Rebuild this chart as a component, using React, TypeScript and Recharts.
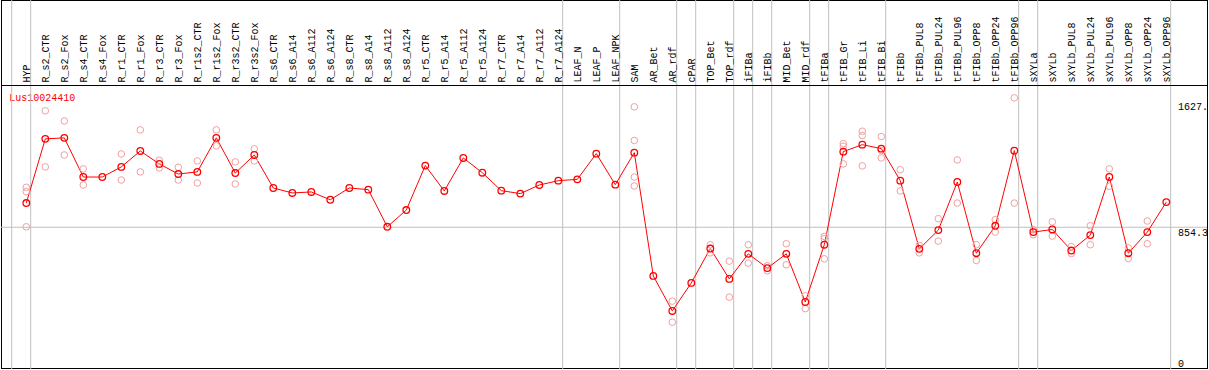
import React from "react";
import { ComposedChart, Line, Scatter, XAxis, YAxis, ReferenceLine } from "recharts";

const categories = [
  "HYP", "R_s2_CTR", "R_s2_Fox", "R_s4_CTR", "R_s4_Fox", "R_r1_CTR", "R_r1_Fox", "R_r3_CTR", "R_r3_Fox",
  "R_r1s2_CTR", "R_r1s2_Fox", "R_r3s2_CTR", "R_r3s2_Fox", "R_s6_CTR", "R_s6_A14", "R_s6_A112", "R_s6_A124",
  "R_s8_CTR", "R_s8_A14", "R_s8_A112", "R_s8_A124", "R_r5_CTR", "R_r5_A14", "R_r5_A112", "R_r5_A124",
  "R_r7_CTR", "R_r7_A14", "R_r7_A112", "R_r7_A124", "LEAF_N", "LEAF_P", "LEAF_NPK", "SAM", "AR_Bet", "AR_rdf",
  "cPAR", "TOP_Bet", "TOP_rdf", "iFIBa", "iFIBb", "MID_Bet", "MID_rdf", "tFIBa", "tFIB_Gr", "tFIB_Li", "tFIB_Bi",
  "tFIBb", "tFIBb_PUL8", "tFIBb_PUL24", "tFIBb_PUL96", "tFIBb_OPP8", "tFIBb_OPP24", "tFIBb_OPP96", "sXYLa",
  "sXYLb", "sXYLb_PUL8", "sXYLb_PUL24", "sXYLb_PUL96", "sXYLb_OPP8", "sXYLb_OPP24", "sXYLb_OPP96",
];

const means = [
  1000, 1387, 1393, 1157, 1157, 1218, 1314, 1236, 1175, 1188, 1393, 1181, 1290, 1091, 1061, 1067, 1020,
  1091, 1081, 857, 958, 1226, 1073, 1272, 1183, 1075, 1057, 1109, 1135, 1143, 1298, 1111, 1304, 561, 350,
  519, 726, 543, 694, 608, 694, 404, 749, 1310, 1352, 1328, 1135, 724, 837, 1127, 698, 863, 1316, 825,
  841, 714, 807, 1157, 698, 825, 1006,
];

const N = null;
const rep1 = [
  1095, 1556, 1495, 1206, N, 1296, 1441, 1258, 1216, 1254, 1441, 1248, 1327, N, N, N, N,
  N, N, N, N, N, N, N, N, N, N, N, N, N, N, N, 1580, N, 409,
  N, 749, 650, 749, 622, 755, 441, 799, 1358, 1433, 1401, 1201, 745, 906, 1260, 749, 900, 1634, 839,
  887, 738, 863, 1206, 730, 892, N,
];
const rep2 = [
  1069, 1218, 1290, 1109, N, 1139, 1188, 1212, 1139, 1121, 1345, 1115, 1254, N, N, N, N,
  N, N, N, N, N, N, N, N, N, N, N, N, N, N, N, 1377, N, 282,
  N, 700, 433, 638, 592, 628, 364, 785, 1342, 1407, 1316, 1073, 700, 771, 1000, 654, 825, 1000, 809,
  801, 696, 749, 1101, 666, 755, N,
];
const rep3 = [
  857, N, N, N, N, N, N, N, N, N, N, N, N, N, N, N, N,
  N, N, N, N, N, N, N, N, N, N, N, N, N, N, N, 1157, N, N,
  N, N, N, N, N, N, N, 664, 1236, 1224, 1272, N, N, N, N, N, N, N, N,
  N, N, N, N, N, N, N,
];
const rep4 = [
  N, N, N, N, N, N, N, N, N, N, N, N, N, N, N, N, N,
  N, N, N, N, N, N, N, N, N, N, N, N, N, N, N, 1103, N, N,
  N, N, N, N, N, N, N, N, N, N, N, N, N, N, N, N, N, N, N,
  N, N, N, N, N, N, N,
];

const groupEnds = [-1, 0, 28, 31, 34, 35, 37, 38, 39, 41, 42, 45, 52, 53, 60];
const yTicks = [0, 854.3, 1627];
const yTickLabels = ["0", "854.3", "1627."];
const title = "Lus10024410";
const yMax = 1708.6;

const rows = categories.map((c, i) => ({ idx: i, name: c, mean: means[i] }));
const repPoints: { idx: number; v: number }[] = [];
[rep1, rep2, rep3, rep4].forEach((arr) =>
  arr.forEach((v, i) => {
    if (v !== null) repPoints.push({ idx: i, v: v as number });
  })
);

const FONT = "'Liberation Mono', 'DejaVu Sans Mono', monospace";
const RED = "#ff0000";
const PINK = "#f0a0a0";
const GRID = "#c0c0c0";

const XTick = (props: any) => {
  const { x, payload } = props;
  return (
    <text
      transform={`translate(${x + 3.5}, 82.5) rotate(-90)`}
      textAnchor="start"
      fontFamily={FONT}
      fontSize={10}
      fill="#000"
    >
      {categories[payload.value]}
    </text>
  );
};

const YTick = (props: any) => {
  const { y, payload } = props;
  const i = yTicks.indexOf(payload.value);
  const dy = i === 2 ? 11.4 : i === 1 ? 8.6 : -2;
  return (
    <text x={1178} y={y + dy} textAnchor="start" fontFamily={FONT} fontSize={10} fill="#000">
      {yTickLabels[i]}
    </text>
  );
};

const MainDot = (props: any) => {
  const { cx, cy, index } = props;
  return <circle key={`m${index}`} cx={cx} cy={cy} r={3.3} fill="none" stroke={RED} strokeWidth={1.3} />;
};

const RepDot = (props: any) => {
  const { cx, cy } = props;
  return <circle cx={cx} cy={cy} r={3.3} fill="none" stroke={PINK} strokeWidth={1} />;
};

const topVal = (yMax * 369) / 283.5;

export default function App() {
  return (
    <div style={{ position: "absolute", left: 0, top: 0, width: 1209, height: 370 }}>
      <ComposedChart
        width={1209}
        height={370}
        data={rows}
        margin={{ top: 0.5, right: 1, bottom: 1, left: 1 }}
        style={{ background: "#fff" }}
      >
        <XAxis
          dataKey="idx"
          type="number"
          orientation="top"
          height={85}
          domain={[-1.3316, 62.142]}
          allowDataOverflow
          ticks={categories.map((_, i) => i)}
          interval={0}
          tick={<XTick />}
          tickLine={false}
          axisLine={{ stroke: "#000", strokeWidth: 1 }}
        />
        <YAxis
          type="number"
          orientation="right"
          width={1}
          domain={[0, yMax]}
          allowDataOverflow
          ticks={yTicks}
          interval={0}
          tick={<YTick />}
          tickLine={false}
          axisLine={false}
        />
        <ReferenceLine y={854.3} stroke={GRID} strokeWidth={1} />
        {groupEnds.map((g) => (
          <ReferenceLine
            key={`g${g}`}
            segment={[
              { x: g + 0.2316, y: 0 },
              { x: g + 0.2316, y: topVal },
            ]}
            ifOverflow="visible"
            stroke={GRID}
            strokeWidth={1}
          />
        ))}
        <Scatter data={repPoints} dataKey="v" shape={<RepDot />} isAnimationActive={false} />
        <Line
          type="linear"
          dataKey="mean"
          stroke={RED}
          strokeWidth={1}
          dot={<MainDot />}
          activeDot={false}
          isAnimationActive={false}
        />
        <text x={9.3} y={100.5} fontFamily={FONT} fontSize={10} fill={RED}>
          {title}
        </text>
        <rect x={1.5} y={0.5} width={1206} height={368} fill="none" stroke="#000" strokeWidth={1} />
      </ComposedChart>
    </div>
  );
}
